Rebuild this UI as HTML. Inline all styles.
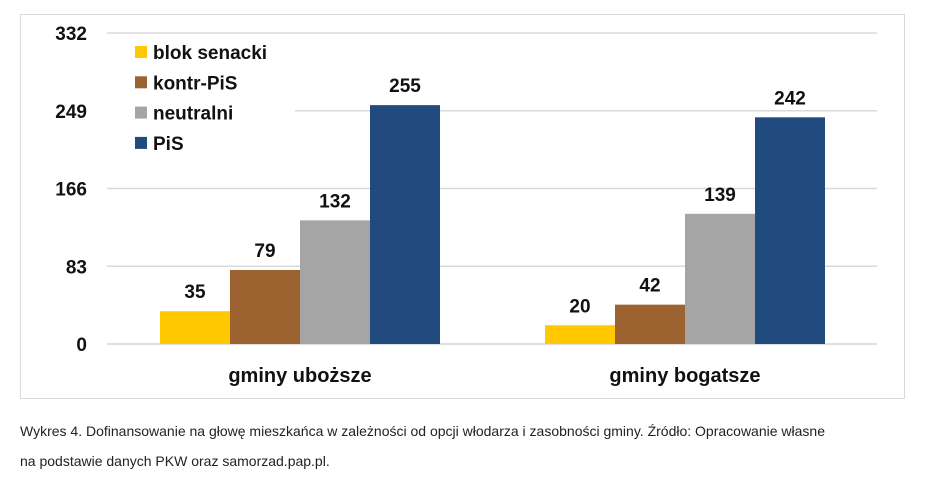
<!DOCTYPE html>
<html><head><meta charset="utf-8"><style>
body{margin:0;background:#fff;width:925px;height:481px;overflow:hidden;font-family:"Liberation Sans",sans-serif}
.cap{position:absolute;left:20px;font-size:14px;color:#222}
</style></head><body>
<svg width="925" height="410" style="position:absolute;left:0;top:0" font-family="Liberation Sans, sans-serif">
<rect x="20.5" y="14.5" width="884" height="384" fill="#fff" stroke="#d9d9d9"/>
<g id="grid"></g><g id="bars"></g><g id="labels"></g>
<g id="legend"></g>
</svg>
<div class="cap" style="top:423px">Wykres 4. Dofinansowanie na głowę mieszkańca w zależności od opcji włodarza i zasobności gminy. Źródło: Opracowanie własne</div>
<div class="cap" style="top:453px">na podstawie danych PKW oraz samorzad.pap.pl.</div>
<script>
const categories=["gminy uboższe","gminy bogatsze"];
const seriesNames=["blok senacki","kontr-PiS","neutralni","PiS"];
const seriesColors=["#ffc800","#9c6331","#a5a5a5","#214a7e"];
const blokSenacki=[35,20];
const kontrPiS=[79,42];
const neutralni=[132,139];
const pis=[255,242];
const ticks=[0,83,166,249,332];
const series=[blokSenacki,kontrPiS,neutralni,pis];
const NS="http://www.w3.org/2000/svg";
const y0=344,y1=33,vmax=332;
const y=v=>y0-(v/vmax)*(y0-y1);
const groupCenters=[300,685],bw=70;
function mk(t,a,p){const e=document.createElementNS(NS,t);for(const k in a)e.setAttribute(k,a[k]);p.appendChild(e);return e;}
const grid=document.getElementById('grid'),bars=document.getElementById('bars'),labels=document.getElementById('labels'),legend=document.getElementById('legend');
ticks.forEach(t=>{
 const l=mk('line',{x1:t===249?295:107,x2:877,y1:y(t),y2:y(t),stroke:'#d9d9d9','stroke-width':1.5},grid);
 
 
 const tx=mk('text',{x:87,y:y(t)+7,'text-anchor':'end','font-size':19,'font-weight':'bold',fill:'#111'},grid);
 tx.textContent=t;
 
 
});
categories.forEach((c,ci)=>{
 series.forEach((s,si)=>{
  const x=groupCenters[ci]-2*bw+si*bw;
  const r=mk('rect',{x:x,y:y(s[ci]),width:bw,height:y0-y(s[ci]),fill:seriesColors[si]},bars);
  
  
  const t=mk('text',{x:x+bw/2,y:y(s[ci])-13,'text-anchor':'middle','font-size':19,'font-weight':'bold',fill:'#111'},labels);
  t.textContent=s[ci];
  
  
 });
 const ct=mk('text',{x:groupCenters[ci],y:382,'text-anchor':'middle','font-size':20,'font-weight':'bold',fill:'#111'},labels);
 ct.textContent=c;
 
 
});
mk('line',{x1:107,x2:877,y1:y0,y2:y0,stroke:'#d9d9d9','stroke-width':1.5},grid);
seriesNames.forEach((n,i)=>{
 const cy=52+i*30.3;
 const g=mk('g',{},legend);
 
 
 mk('rect',{x:135,y:cy-6,width:12,height:12,fill:seriesColors[i]},g);
 const t=mk('text',{x:153,y:cy+7,'font-size':19,'font-weight':'bold',fill:'#111'},g);
 t.textContent=n;
});
</script>
</body></html>
